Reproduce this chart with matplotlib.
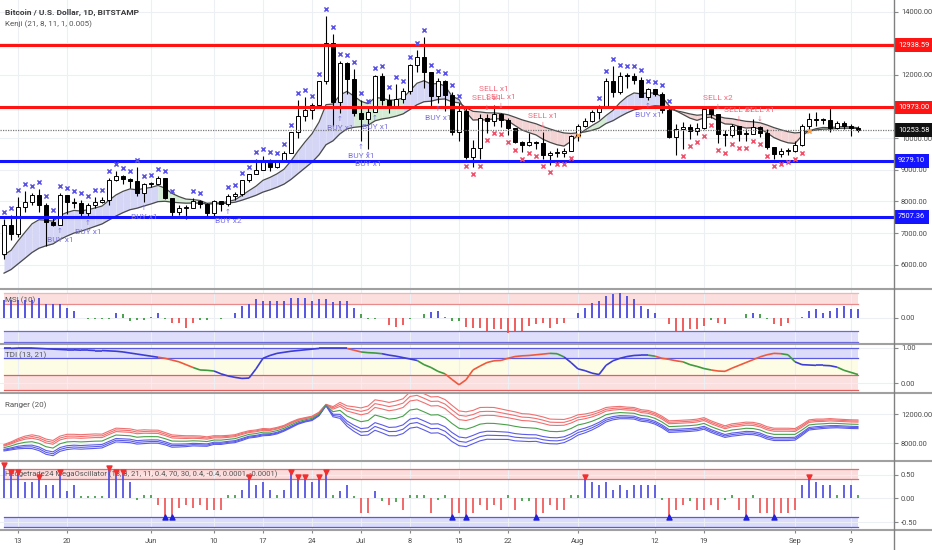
import matplotlib

matplotlib.use("Agg")
import matplotlib.pyplot as plt
import matplotlib.transforms as mtransforms
from matplotlib.collections import LineCollection
from matplotlib.lines import Line2D
import numpy as np
import pandas as pd

plt.rcParams["font.family"] = ["Liberation Sans Narrow", "Roboto", "DejaVu Sans"]

# ---------------- data ----------------
dates = pd.date_range("2019-05-11", "2019-09-10", freq="D")
first_open = 6350
close = [7250, 6970, 7810, 7990, 8200, 7880, 7360, 7260, 8190, 7990,
         7950, 7630, 7880, 7990, 8060, 8670, 8800, 8720, 8660, 8270,
         8550, 8560, 8730, 8110, 7680, 7790, 7800, 8000, 7930, 7630,
         8010, 7920, 8170, 8230, 8690, 8860, 8980, 9320, 9080, 9270,
         9530, 10200, 10700, 10880, 11050, 11800, 13000, 11150, 12370, 11880,
         10800, 10600, 10830, 11960, 11200, 10980, 11240, 11480, 12310, 12570,
         12100, 11340, 11800, 11380, 10200, 10850, 9420, 9700, 10630, 10530,
         10770, 10590, 10330, 9880, 9770, 9880, 9850, 9480, 9530, 9530,
         9600, 10080, 10400, 10530, 10820, 10980, 11800, 11460, 11980, 11970,
         11850, 11300, 11550, 11390, 10900, 10050, 10300, 10350, 10220, 10320,
         10920, 10760, 10130, 10110, 10400, 10140, 10140, 10370, 10180, 9720,
         9490, 9590, 9610, 9770, 10390, 10620, 10590, 10580, 10310, 10480,
         10400, 10310, 10253.58]
high = [7450, 7560, 8150, 8330, 8280, 8380, 7950, 7500, 8250, 8200,
        8100, 8030, 7950, 8150, 8150, 8750, 8950, 8820, 8740, 9080,
        8570, 8620, 8800, 8730, 8120, 7900, 7880, 8100, 8050, 7950,
        8060, 8000, 8240, 8310, 8690, 8880, 9340, 9450, 9330, 9310,
        9600, 10200, 11200, 11300, 11100, 11800, 13880, 13300, 12450, 12400,
        12200, 11200, 10950, 12000, 12050, 11400, 11700, 11600, 12350, 12800,
        13200, 12100, 11900, 11850, 11450, 11100, 11000, 9950, 10750, 10750,
        11050, 10800, 10650, 10330, 9900, 10150, 9900, 10200, 9600, 9700,
        9700, 10100, 10450, 10650, 10900, 11050, 11900, 12300, 12100, 12050,
        12050, 11950, 11600, 11550, 11450, 10950, 10450, 10500, 10450, 10480,
        10950, 10950, 10780, 10250, 10450, 10400, 10300, 10600, 10400, 10300,
        9720, 9680, 9700, 9900, 10450, 10800, 10840, 10650, 10950, 10550,
        10550, 10450, 10380]
low = [6170, 6780, 6870, 7650, 7880, 7650, 6600, 7220, 7250, 7600,
       7800, 7530, 7500, 7790, 7950, 7900, 8650, 8560, 8420, 8170,
       7970, 8460, 8540, 8080, 7480, 7580, 7450, 7780, 7800, 7530,
       7550, 7710, 7850, 8060, 8170, 8600, 8860, 8980, 8950, 9060,
       9260, 9530, 10000, 10550, 10600, 11030, 11700, 10400, 10800, 11400,
       10700, 9900, 9650, 10830, 11050, 10800, 10980, 11100, 11400, 12100,
       11600, 11000, 11100, 10850, 10100, 9900, 9350, 9100, 9350, 10150,
       10400, 10350, 10100, 9850, 9550, 9750, 9650, 9350, 9150, 9400,
       9400, 9580, 9900, 10350, 10500, 10600, 10980, 11300, 11400, 11600,
       11700, 11300, 11200, 11350, 10800, 10000, 9470, 9650, 9980, 10100,
       10300, 10650, 9850, 9750, 10050, 9900, 9900, 10140, 10050, 9650,
       9330, 9400, 9480, 9560, 9760, 10300, 10400, 10450, 10200, 10300,
       10300, 10060, 10200]

kenji_fast = [6300, 6450, 6750, 7025, 7290, 7420, 7405, 7375, 7555, 7650,
              7715, 7695, 7736, 7792, 7852, 8034, 8204, 8319, 8395, 8367,
              8408, 8442, 8506, 8418, 8254, 8151, 8073, 8057, 8029, 7940,
              7956, 7948, 7997, 8049, 8191, 8340, 8482, 8668, 8759, 8872,
              9018, 9280, 9595, 9880, 10140, 10508, 11061, 11081, 11367, 11481,
              11330, 11168, 11093, 11285, 11266, 11203, 11211, 11271, 11502, 11739,
              11819, 11713, 11732, 11654, 11331, 11224, 10824, 10574, 10586, 10574,
              10617, 10611, 10549, 10400, 10260, 10176, 10104, 9965, 9868, 9793,
              9750, 9900, 10100, 10260, 10400, 10530, 10716, 10881, 11125, 11313,
              11432, 11403, 11436, 11426, 11309, 11029, 10867, 10752, 10634, 10564,
              10643, 10669, 10549, 10452, 10440, 10373, 10321, 10332, 10298, 10170,
              10019, 9924, 9854, 9835, 10080, 10230, 10300, 10340, 10330, 10360,
              10370, 10355, 10330]
kenji_slow = [5730, 5843, 6022, 6201, 6383, 6519, 6595, 6655, 6795, 6904,
              6999, 7056, 7131, 7209, 7286, 7412, 7538, 7645, 7737, 7785,
              7855, 7919, 7993, 8004, 7975, 7958, 7944, 7949, 7947, 7918,
              7926, 7926, 7948, 7974, 8039, 8114, 8193, 8295, 8366, 8448,
              8546, 8696, 8878, 9060, 9241, 9474, 9794, 9917, 10140, 10298,
              10344, 10367, 10409, 10550, 10609, 10643, 10697, 10768, 10908, 11059,
              11154, 11171, 11228, 11242, 11147, 11120, 10966, 10851, 10831, 10804,
              10801, 10782, 10741, 10663, 10582, 10518, 10457, 10368, 10292, 10223,
              10166, 10150, 10170, 10200, 10250, 10320, 10465, 10555, 10685, 10802,
              10897, 10934, 10990, 11026, 11015, 10927, 10870, 10823, 10768, 10727,
              10745, 10746, 10690, 10637, 10616, 10573, 10534, 10519, 10488, 10418,
              10334, 10266, 10206, 10166, 10186, 10226, 10259, 10288, 10290, 10307,
              10316, 10315, 10309]
# cloud colour per day: b = bull, g = weak, r = bear
kenji_zone = ("b" * 23 + "g" * 9 + "b" * 19 + "g" * 7 + "b" * 8 + "r" * 17
              + "g" * 4 + "b" * 8 + "r" * 20 + "g" * 8)
# x markers: b = above high, r = below low, o = on the fast line, . = none
marker_code = ("b" * 25 + "." * 2 + "b" * 2 + "." * 3 + "b" * 34 + "r" * 16 + "o"
               + "." * 2 + "b" * 11 + "." + "r" * 18 + "o" + "." * 7)

buy_idx = [8, 12, 20, 32, 48, 51, 52, 53, 62, 92]
buy_text = ["BUY x1", "BUY x1", "BUY x1", "BUY x2", "BUY x1",
            "BUY x1", "BUY x1", "BUY x1", "BUY x1", "BUY x1"]
sell_idx = [69, 70, 71, 77, 102, 105, 108]
sell_text = ["SELL x1", "SELL x1", "SELL x1", "SELL x1", "SELL x2", "SELL x1", "SELL x1"]

levels = [12938.59, 10973.00, 9279.10, 7507.36]
level_colors = ["#ff1414", "#ff1414", "#1414ff", "#1414ff"]
price_ticks = [6000, 7000, 8000, 9000, 10000, 11000, 12000, 13000, 14000]
hidden_ticks = [11000, 13000]   # sit under the level boxes

msi = [0.64, 0.64, 0.64, 0.64, 0.64, 0.70, 0.50, 0.50, 0.50, 0.34,
       0.24, 0.00, -0.04, -0.04, -0.04, -0.04, 0.17, 0.12, -0.12, -0.10,
       -0.10, 0.04, 0.17, -0.05, -0.18, -0.18, -0.36, -0.18, -0.10, -0.10,
       0.00, -0.06, 0.00, 0.17, 0.44, 0.51, 0.68, 0.61, 0.61, 0.61,
       0.61, 0.73, 0.73, 0.73, 0.61, 0.68, 0.68, 0.56, 0.61, 0.61,
       0.34, 0.12, -0.06, -0.06, 0.00, -0.27, -0.33, -0.27, -0.06, 0.00,
       0.12, 0.19, 0.24, 0.04, -0.12, -0.12, -0.33, -0.36, -0.36, -0.48,
       -0.42, -0.42, -0.55, -0.48, -0.48, -0.30, -0.24, -0.18, -0.36, -0.24,
       -0.18, 0.00, 0.17, 0.36, 0.52, 0.61, 0.79, 0.86, 0.90, 0.79,
       0.67, 0.42, 0.30, 0.17, 0.00, -0.24, -0.48, -0.48, -0.42, -0.42,
       -0.30, -0.10, -0.18, -0.24, -0.02, 0.00, 0.12, 0.17, 0.12, -0.06,
       -0.24, -0.30, -0.18, 0.00, 0.04, 0.24, 0.30, 0.17, 0.24, 0.36,
       0.42, 0.30, 0.30]

tdi = [0.98, 0.98, 0.99, 0.99, 0.99, 0.98, 0.97, 0.96, 0.95, 0.94,
       0.94, 0.93, 0.93, 0.92, 0.92, 0.91, 0.90, 0.88, 0.85, 0.82,
       0.79, 0.76, 0.73, 0.70, 0.65, 0.60, 0.52, 0.44, 0.37, 0.36,
       0.34, 0.26, 0.20, 0.16, 0.13, 0.14, 0.40, 0.70, 0.78, 0.84,
       0.87, 0.90, 0.92, 0.94, 0.96, 0.98, 0.98, 0.98, 0.98, 0.98,
       0.93, 0.88, 0.86, 0.85, 0.83, 0.79, 0.76, 0.72, 0.68, 0.64,
       0.52, 0.44, 0.33, 0.26, 0.10, -0.05, 0.09, 0.37, 0.48, 0.58,
       0.63, 0.64, 0.70, 0.75, 0.77, 0.78, 0.80, 0.82, 0.84, 0.83,
       0.74, 0.58, 0.40, 0.35, 0.28, 0.24, 0.50, 0.63, 0.70, 0.75,
       0.78, 0.79, 0.79, 0.76, 0.70, 0.67, 0.63, 0.60, 0.52, 0.47,
       0.41, 0.37, 0.34, 0.33, 0.42, 0.50, 0.58, 0.66, 0.74, 0.80,
       0.84, 0.83, 0.80, 0.60, 0.52, 0.51, 0.50, 0.50, 0.49, 0.45,
       0.36, 0.30, 0.24]
tdi_code = ("b" * 23 + "r" * 5 + "g" * 3 + "b" * 19 + "r" * 2 + "g" * 3 + "b" * 5
            + "g" * 4 + "r" * 15 + "g" * 2 + "b" * 12 + "g" + "r" * 4 + "g" * 4
            + "r" * 10 + "g" * 2 + "b" * 6 + "g" * 3)

ranger_mid = [7350, 7600, 7900, 8100, 8180, 7950, 7490, 7300, 7900, 8150,
              8200, 8150, 8200, 8250, 8270, 8700, 9100, 9050, 9000, 8800,
              8870, 8880, 8870, 8600, 8270, 8250, 8250, 8300, 8270, 8200,
              8410, 8400, 8500, 8600, 8900, 9190, 9300, 9500, 9500, 9700,
              10030, 10500, 10940, 11200, 11400, 12000, 13240, 12320, 12500, 11720,
              11300, 10940, 11100, 11860, 11600, 11300, 11400, 11700, 12550, 12700,
              12300, 11860, 11900, 11500, 10700, 10030, 9900, 10200, 10600, 10720,
              10700, 10600, 10490, 10300, 10150, 10100, 10030, 9800, 9600, 9570,
              9650, 10000, 10490, 10700, 11000, 11400, 11900, 12100, 12200, 12150,
              12100, 11800, 11700, 11400, 10900, 10260, 10300, 10350, 10400, 10490,
              10700, 10260, 9900, 9570, 9800, 9900, 10030, 10000, 9800, 9400,
              9190, 9190, 9190, 9190, 9800, 10490, 10600, 10650, 10720, 10700,
              10650, 10600, 10580]
ranger_width = [450, 550, 700, 850, 950, 1000, 1050, 1050, 1050, 1050,
                1000, 1000, 1000, 1000, 950, 950, 950, 950, 950, 950,
                950, 900, 900, 850, 850, 800, 750, 700, 700, 650,
                600, 600, 550, 550, 550, 500, 500, 500, 450, 450,
                400, 400, 350, 300, 300, 250, 100, 700, 1100, 1400,
                1700, 1900, 2000, 2100, 2200, 2300, 2400, 2400, 2500, 2500,
                2500, 2500, 2500, 2500, 2500, 2400, 2400, 2300, 2300, 2200,
                2200, 2100, 2000, 2000, 1900, 1900, 1800, 1800, 1700, 1700,
                1600, 1500, 1400, 1300, 1200, 1100, 1000, 900, 850, 800,
                800, 800, 800, 800, 800, 800, 800, 800, 800, 800,
                800, 800, 800, 800, 850, 850, 850, 850, 850, 850,
                850, 850, 850, 800, 750, 700, 700, 650, 650, 600,
                600, 600, 600]

mega_osc = [0.70, 0.55, 0.55, 0.34, 0.34, 0.45, 0.27, 0.27, 0.55, 0.16,
            0.27, 0.05, 0.04, 0.04, 0.04, 0.64, 0.55, 0.55, 0.34, -0.04,
            0.06, 0.06, -0.15, -0.40, -0.40, -0.21, -0.15, -0.21, -0.15, -0.24,
            -0.24, -0.24, 0.06, 0.06, 0.17, 0.45, 0.27, 0.34, 0.17, 0.06,
            0.17, 0.55, 0.45, 0.45, 0.34, 0.45, 0.55, 0.06, 0.16, 0.27,
            0.05, -0.31, -0.31, 0.16, -0.05, -0.15, -0.07, -0.24, 0.06, 0.06,
            0.06, -0.31, -0.04, 0.06, -0.40, -0.31, -0.40, -0.31, -0.15, -0.24,
            -0.15, -0.24, 0.06, -0.24, -0.05, -0.05, -0.40, -0.31, -0.15, -0.24,
            -0.24, 0.06, 0.06, 0.45, 0.34, 0.27, 0.34, 0.17, 0.27, 0.17,
            0.27, 0.27, 0.27, 0.27, -0.04, -0.40, -0.24, -0.15, -0.05, -0.24,
            -0.24, -0.15, -0.24, -0.04, 0.06, -0.24, -0.40, 0.06, -0.31, -0.31,
            -0.40, -0.31, -0.31, -0.24, 0.27, 0.45, 0.34, 0.27, 0.27, 0.06,
            0.27, 0.27, 0.06]

tick_dates = ["2019-05-13", "2019-05-20", "2019-06-01", "2019-06-10", "2019-06-17",
              "2019-06-24", "2019-07-01", "2019-07-08", "2019-07-15", "2019-07-22",
              "2019-08-01", "2019-08-12", "2019-08-19", "2019-09-01", "2019-09-09"]
tick_labels = ["13", "20", "Jun", "10", "17", "24", "Jul", "8", "15", "22",
               "Aug", "12", "19", "Sep", "9"]

# ---------------- layout ----------------
W, H = 932, 550
AX_RIGHT = 894
fig = plt.figure(figsize=(W / 100, H / 100), dpi=100)
fig.patch.set_facecolor("white")


def panel(top, bottom):
    return fig.add_axes([0, 1 - bottom / H, AX_RIGHT / W, (bottom - top) / H])


ax_p = panel(0, 289)
ax_m = panel(289, 344)
ax_t = panel(344, 393)
ax_r = panel(393, 461)
ax_o = panel(461, 530)
axes = [ax_p, ax_m, ax_t, ax_r, ax_o]

n = len(close)
idx = np.arange(n)
xpos = dates.get_indexer(pd.to_datetime(tick_dates))
GRID = "#eceff4"
TXT = "#4a4a4a"
LBL = 5.4
PANEL_FS = 5.8

for ax in axes:
    ax.set_xlim(-4 / 7, (AX_RIGHT - 4) / 7)
    for s in ax.spines.values():
        s.set_visible(False)
    ax.set_xticks(xpos)
    ax.tick_params(axis="x", length=0, labelbottom=False)
    ax.yaxis.tick_right()
    ax.tick_params(axis="y", length=3, width=0.8, color="#888", labelsize=LBL,
                   labelcolor=TXT, pad=2)
    ax.grid(True, color=GRID, lw=0.8)
    ax.set_axisbelow(True)

# ---------------- price panel ----------------
ax_p.set_ylim(5228, 14373)
ax_p.set_yticks(price_ticks)
ax_p.set_yticklabels(["" if v in hidden_ticks else f"{v:.2f}" for v in price_ticks])

fast = np.array(kenji_fast, float)
slow = np.array(kenji_slow, float)
zone_col = {"b": "#d5d5f6", "g": "#d3ecd3", "r": "#f3d3d3"}
for i in range(n - 1):
    ax_p.fill_between([i, i + 1], fast[i:i + 2], slow[i:i + 2],
                      color=zone_col[kenji_zone[i + 1]], lw=0, zorder=1)
ax_p.plot(idx, fast, color="#4a4a4a", lw=0.9, zorder=2)
ax_p.plot(idx, slow, color="#4a4a4a", lw=0.9, zorder=2)

opn = np.r_[first_open, close[:-1]]
cl = np.array(close, float)
hi = np.array(high, float)
lo = np.array(low, float)
up = cl >= opn
ax_p.vlines(idx, lo, hi, color="black", lw=0.8, zorder=3)
ax_p.bar(idx, np.maximum(np.abs(cl - opn), 25), bottom=np.minimum(opn, cl), width=0.62,
         color=np.where(up, "white", "black"), edgecolor="black", linewidth=0.7, zorder=3.5)

for lvl, c in zip(levels, level_colors):
    ax_p.axhline(lvl, color=c, lw=2.2, zorder=4)
ax_p.axhline(cl[-1], color="#7a7a7a", lw=0.9, ls=(0, (1, 1)), zorder=4)

code = np.array(list(marker_code))
above = mtransforms.offset_copy(ax_p.transData, fig=fig, y=7, units="dots")
below = mtransforms.offset_copy(ax_p.transData, fig=fig, y=-7, units="dots")
m = code == "b"
ax_p.scatter(idx[m], hi[m], marker="x", s=9, lw=1.1, color="#5a52e4", transform=above, zorder=5)
m = code == "r"
ax_p.scatter(idx[m], lo[m], marker="x", s=9, lw=1.1, color="#f0506a", transform=below, zorder=5)
m = code == "o"
ax_p.scatter(idx[m], fast[m], marker="x", s=9, lw=1.1, color="#f0a050", zorder=5)

for i, t in zip(buy_idx, buy_text):
    ax_p.annotate("↑", (i, lo[i]), xytext=(0, -6), textcoords="offset pixels", ha="center",
                  va="center", fontsize=5, color="#7a72e0", family="DejaVu Sans", zorder=6)
    ax_p.annotate(t, (i, lo[i]), xytext=(0, -15), textcoords="offset pixels", ha="center",
                  va="center", fontsize=6, color="#7a72e0", zorder=6)
for i, t in zip(sell_idx, sell_text):
    ax_p.annotate("↓", (i, hi[i]), xytext=(0, 7), textcoords="offset pixels", ha="center",
                  va="center", fontsize=5, color="#f06b7c", family="DejaVu Sans", zorder=6)
    ax_p.annotate(t, (i, hi[i]), xytext=(0, 16), textcoords="offset pixels", ha="center",
                  va="center", fontsize=6, color="#f06b7c", zorder=6)

blend = mtransforms.blended_transform_factory(ax_p.transAxes, ax_p.transData)
for lvl, c in zip(levels + [cl[-1]], level_colors + ["#111111"]):
    ax_p.text(1.0 + 4 / AX_RIGHT, lvl, f"{lvl:.2f}", transform=blend, ha="left", va="center",
              fontsize=LBL, color="white", zorder=10, clip_on=False,
              bbox=dict(boxstyle="square,pad=0.45", fc=c, ec="none"))

ax_p.text(5 / AX_RIGHT, 0.958, "Bitcoin / U.S. Dollar, 1D, BITSTAMP", transform=ax_p.transAxes,
          fontsize=6, color="#3a3a3a", fontweight="bold", va="center")
ax_p.text(5 / AX_RIGHT, 0.917, "Kenji (21, 8, 11, 1, 0.005)", transform=ax_p.transAxes,
          fontsize=PANEL_FS, color="#555", va="center")

# ---------------- MSI ----------------
ax_m.set_ylim(-0.956, 1.044)
ax_m.set_yticks([0])
ax_m.set_yticklabels(["0.00"])
ax_m.fill_between([0, n - 1], 0.5, 0.9, color="#fbdede", lw=0, zorder=0.5)
ax_m.fill_between([0, n - 1], -0.5, -0.9, color="#dfdffb", lw=0, zorder=0.5)
for y, c in [(0.5, "#e88a8a"), (0.9, "#f2b5b5"), (-0.5, "#6a6ae0"), (-0.9, "#6a6ae0")]:
    ax_m.plot([0, n - 1], [y, y], color=c, lw=0.9, zorder=1)
msi_v = np.array(msi)
msi_c = np.where(np.abs(msi_v) < 0.15, "#3c9a3c", np.where(msi_v > 0, "#4848e0", "#ef5050"))
ax_m.vlines(idx, 0, msi_v, colors=msi_c, lw=1.3, zorder=2)
ax_m.text(5 / AX_RIGHT, 0.8, "MSI (10)", transform=ax_m.transAxes, fontsize=PANEL_FS,
          color="#555", va="center")

# ---------------- TDI ----------------
ax_t.set_ylim(-0.283, 1.105)
ax_t.set_yticks([0, 1])
ax_t.set_yticklabels(["0.00", "1.00"])
ax_t.fill_between([0, n - 1], 0.70, 1.0, color="#dcdcfa", lw=0, zorder=0.5)
ax_t.fill_between([0, n - 1], 0.23, 0.70, color="#fdfde6", lw=0, zorder=0.5)
ax_t.fill_between([0, n - 1], -0.19, 0.23, color="#fbe0e0", lw=0, zorder=0.5)
for y, c in [(1.0, "#5a5ae0"), (0.70, "#5a5ae0"), (0.23, "#e06060"), (-0.19, "#e06060")]:
    ax_t.plot([0, n - 1], [y, y], color=c, lw=0.9, zorder=1)
tdi_v = np.array(tdi)
segs = [[(i, tdi_v[i]), (i + 1, tdi_v[i + 1])] for i in range(n - 1)]
tcol = {"b": "#3d3dd6", "r": "#f0583c", "g": "#3f9a3f"}
ax_t.add_collection(LineCollection(segs, colors=[tcol[c] for c in tdi_code[1:]], lw=1.2, zorder=3))
ax_t.text(5 / AX_RIGHT, 0.78, "TDI (13, 21)", transform=ax_t.transAxes, fontsize=PANEL_FS,
          color="#555", va="center")

# ---------------- Ranger ----------------
ax_r.set_ylim(5516, 14900)
ax_r.set_yticks([8000, 12000])
ax_r.set_yticklabels(["8000.00", "12000.00"])
mid = np.array(ranger_mid, float)
wid = np.array(ranger_width, float)
for k in [1.0, 0.75, 0.5]:
    ax_r.plot(idx, mid + k * wid, color="#f07070", lw=0.8, zorder=2)
    ax_r.plot(idx, mid - k * wid, color="#5b5be8", lw=0.8, zorder=2)
ax_r.plot(idx, mid, color="#4aa04a", lw=0.8, zorder=2)
ax_r.text(5 / AX_RIGHT, 0.82, "Ranger (20)", transform=ax_r.transAxes, fontsize=PANEL_FS,
          color="#555", va="center")

# ---------------- MegaOscillator ----------------
ax_o.set_ylim(-0.666, 0.784)
ax_o.set_yticks([-0.5, 0, 0.5])
ax_o.set_yticklabels(["-0.50", "0.00", "0.50"])
ax_o.fill_between([0, n - 1], 0.4, 0.62, color="#fbdcdc", lw=0, zorder=0.5)
ax_o.fill_between([0, n - 1], -0.4, -0.6, color="#dcdcfb", lw=0, zorder=0.5)
for y, c in [(0.4, "#e86a6a"), (0.62, "#e86a6a"), (-0.4, "#5a5ae0"), (-0.6, "#5a5ae0")]:
    ax_o.plot([0, n - 1], [y, y], color=c, lw=0.9, zorder=1)
osc = np.array(mega_osc)
osc_c = np.where(np.abs(osc) < 0.1, "#3c9a3c", np.where(osc > 0, "#4848e0", "#ef5050"))
ax_o.vlines(idx, 0, osc, colors=osc_c, lw=1.2, zorder=2)
m = osc >= 0.4
ax_o.scatter(idx[m], osc[m], marker="v", s=13, color="#f03030", zorder=4)
m = osc <= -0.4
ax_o.scatter(idx[m], osc[m], marker="^", s=13, color="#2020e0", zorder=4)
ax_o.text(5 / AX_RIGHT, 0.81,
          "Hedgetrade24 MegaOscillator (13, 8, 21, 11, 0.4, 70, 30, 0.4, -0.4, 0.0001, -0.0001)",
          transform=ax_o.transAxes, fontsize=5.5, color="#555", va="center")
ax_o.set_xticklabels(tick_labels)
ax_o.tick_params(axis="x", labelbottom=True, length=2, color="#888", labelsize=LBL,
                 labelcolor=TXT, pad=4)

# ---------------- separators ----------------
for ypx in [289, 344, 393, 461, 530]:
    fig.add_artist(Line2D([0, 1], [1 - ypx / H] * 2, transform=fig.transFigure,
                          color="#a0a0a0", lw=1.5))
fig.add_artist(Line2D([AX_RIGHT / W] * 2, [0, 1], transform=fig.transFigure,
                      color="#808080", lw=1))

fig.savefig("out.png", dpi=100)
